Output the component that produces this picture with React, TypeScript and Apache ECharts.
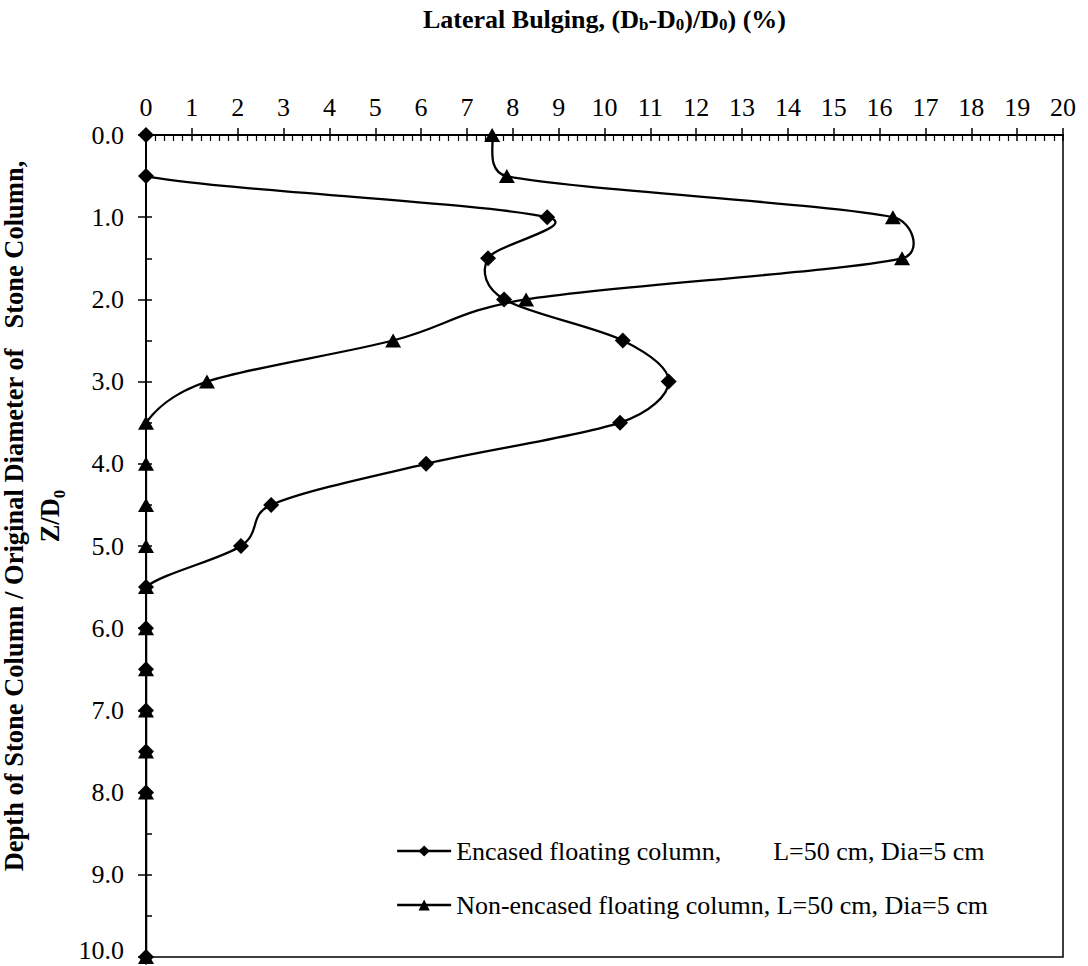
import { useEffect, useRef } from "react";
import * as echarts from "echarts";

// Depth ratio Z/D0 (y values)
const depthRatio = [0, 0.5, 1, 1.5, 2, 2.5, 3, 3.5, 4, 4.5, 5, 5.5, 6, 6.5, 7, 7.5, 8, 10];
// Lateral bulging (%) — encased floating column
const encasedBulging = [0, 0, 8.75, 7.46, 7.81, 10.4, 11.4, 10.34, 6.11, 2.73, 2.07, 0, 0, 0, 0, 0, 0, 0];
// Lateral bulging (%) — non-encased floating column
const nonEncasedBulging = [7.55, 7.87, 16.29, 16.49, 8.29, 5.39, 1.33, 0, 0, 0, 0, 0, 0, 0, 0, 0, 0, 0];

const seriesNames = [
  "Encased floating column,        L=50 cm, Dia=5 cm",
  "Non-encased floating column, L=50 cm, Dia=5 cm",
];

const FONT = "'Liberation Serif', 'Times New Roman', serif";
const LINE_W = 2.3;

// Excel-like smoothed curve through the points (coordinates obtained from the axes)
function smoothCurve(values: number[]) {
  return (_params: any, api: any) => {
    const pts: number[][] = depthRatio.map((d, i) => api.coord([values[i], d]));
    const children: any[] = [];
    const dist = (a: number[], b: number[]) => Math.hypot(a[0] - b[0], a[1] - b[1]);
    for (let i = 0; i < pts.length - 1; i++) {
      const p0 = pts[i - 1] || pts[i];
      const p1 = pts[i];
      const p2 = pts[i + 1];
      const p3 = pts[i + 2] || pts[i + 1];
      const d12 = dist(p1, p2);
      const d02 = dist(p0, p2);
      const d13 = dist(p1, p3);
      const f0 = d02 > 0 ? Math.min(1 / 6, (0.5 * d12) / d02) : 0;
      const f1 = d13 > 0 ? Math.min(1 / 6, (0.5 * d12) / d13) : 0;
      children.push({
        type: "bezierCurve",
        shape: {
          x1: p1[0],
          y1: p1[1],
          cpx1: p1[0] + f0 * (p2[0] - p0[0]),
          cpy1: p1[1] + f0 * (p2[1] - p0[1]),
          cpx2: p2[0] - f1 * (p3[0] - p1[0]),
          cpy2: p2[1] - f1 * (p3[1] - p1[1]),
          x2: p2[0],
          y2: p2[1],
        },
        style: { stroke: "#000", lineWidth: LINE_W, fill: null, lineCap: "round" },
      });
    }
    return { type: "group", children };
  };
}

export default function App() {
  const ref = useRef<HTMLDivElement>(null);
  useEffect(() => {
    const chart = echarts.init(ref.current!, null, { renderer: "svg" });
    const pairs = (xs: number[]) => xs.map((x, i) => [x, depthRatio[i]]);
    const tickLabel = { fontFamily: FONT, fontSize: 26, color: "#000" };
    chart.setOption({
      animation: false,
      backgroundColor: "#fff",
      grid: {
        left: 146,
        right: 25,
        top: 135,
        bottom: 9,
        show: true,
        borderColor: "#000",
        borderWidth: 1.5,
        containLabel: false,
        outerBoundsMode: "none",
      },
      xAxis: [
        {
          type: "value",
          position: "top",
          min: 0,
          max: 20,
          interval: 1,
          name: "{t|Lateral Bulging, (D}{s|b}{t|-D}{s|0}{t|)/D}{s|0}{t|) (%)}",
          nameLocation: "middle",
          nameGap: 102,
          nameTextStyle: {
            rich: {
              t: { fontFamily: FONT, fontSize: 26, fontWeight: "bold", color: "#000", lineHeight: 28, verticalAlign: "middle" },
              s: { fontFamily: FONT, fontSize: 17, fontWeight: "bold", color: "#000", lineHeight: 12, verticalAlign: "bottom" },
            },
          },
          axisLine: { show: true, lineStyle: { color: "#000", width: 2 } },
          axisTick: { show: true, inside: false, length: 7, lineStyle: { color: "#000", width: 1.5 } },
          axisLabel: { ...tickLabel, margin: 15, formatter: (v: number) => String(v) },
          splitLine: { show: false },
        },
        {
          type: "value",
          position: "top",
          min: 0,
          max: 20,
          interval: 1,
          axisLine: { show: false },
          axisTick: { show: true, inside: true, length: 6, lineStyle: { color: "#000", width: 1.5 } },
          minorTick: { show: true, splitNumber: 5, length: 6, lineStyle: { color: "#000", width: 1.2 } },
          axisLabel: { show: false },
          splitLine: { show: false },
        },
      ],
      yAxis: [
        {
          type: "value",
          position: "left",
          inverse: true,
          min: 0,
          max: 10,
          interval: 1,
          name: "{t|Depth of Stone Column / Original Diameter of   Stone Column,}\n{t|Z/D}{s|0}",
          nameLocation: "middle",
          nameRotate: 90,
          nameGap: 66,
          nameTextStyle: {
            padding: [0, 0, 0, 60],
            rich: {
              t: { fontFamily: FONT, fontSize: 26.5, fontWeight: "bold", color: "#000", lineHeight: 36, verticalAlign: "middle" },
              s: { fontFamily: FONT, fontSize: 17, fontWeight: "bold", color: "#000", lineHeight: 22, verticalAlign: "bottom" },
            },
          },
          axisLine: { show: true, lineStyle: { color: "#000", width: 2 } },
          axisTick: { show: true, inside: false, length: 8, lineStyle: { color: "#000", width: 1.5 } },
          axisLabel: {
            ...tickLabel,
            lineHeight: 18,
            margin: 22,
            formatter: (v: number) => (v === 10 ? `{e|${v.toFixed(1)}}` : v.toFixed(1)),
            rich: {
              e: { fontFamily: FONT, fontSize: 26, color: "#000", lineHeight: 18, padding: [0, 0, 14, 0] },
            },
          },
          splitLine: { show: false },
        },
        {
          type: "value",
          position: "left",
          inverse: true,
          min: 0,
          max: 10,
          interval: 1,
          axisLine: { show: false },
          axisTick: { show: true, inside: true, length: 6, lineStyle: { color: "#000", width: 1.5 } },
          minorTick: { show: true, splitNumber: 2, length: 6, lineStyle: { color: "#000", width: 1.5 } },
          axisLabel: { show: false },
          splitLine: { show: false },
        },
      ],
      legend: {
        orient: "vertical",
        left: 391,
        top: 833,
        itemWidth: 54,
        itemHeight: 14,
        itemGap: 28,
        textStyle: { fontFamily: FONT, fontSize: 26, color: "#000" },
        lineStyle: { color: "#000", width: LINE_W, opacity: 1, type: "solid" },
        data: seriesNames,
      },
      series: [
        {
          name: "encased-curve",
          type: "custom",
          xAxisIndex: 0,
          yAxisIndex: 0,
          clip: true,
          silent: true,
          data: [[0, 0]],
          renderItem: smoothCurve(encasedBulging),
        },
        {
          name: "non-encased-curve",
          type: "custom",
          xAxisIndex: 0,
          yAxisIndex: 0,
          clip: true,
          silent: true,
          data: [[0, 0]],
          renderItem: smoothCurve(nonEncasedBulging),
        },
        {
          name: seriesNames[0],
          type: "line",
          xAxisIndex: 0,
          yAxisIndex: 0,
          data: pairs(encasedBulging),
          symbol: "diamond",
          symbolSize: 16,
          itemStyle: { color: "#000" },
          lineStyle: { color: "#000", width: LINE_W, opacity: 0 },
        },
        {
          name: seriesNames[1],
          type: "line",
          xAxisIndex: 0,
          yAxisIndex: 0,
          data: pairs(nonEncasedBulging),
          symbol: "triangle",
          symbolSize: [16, 14],
          itemStyle: { color: "#000" },
          lineStyle: { color: "#000", width: LINE_W, opacity: 0 },
        },
      ],
    });
    return () => chart.dispose();
  }, []);
  return (
    <div
      ref={ref}
      style={{ position: "absolute", left: 0, top: 0, width: 1088, height: 966, background: "#fff" }}
    />
  );
}
